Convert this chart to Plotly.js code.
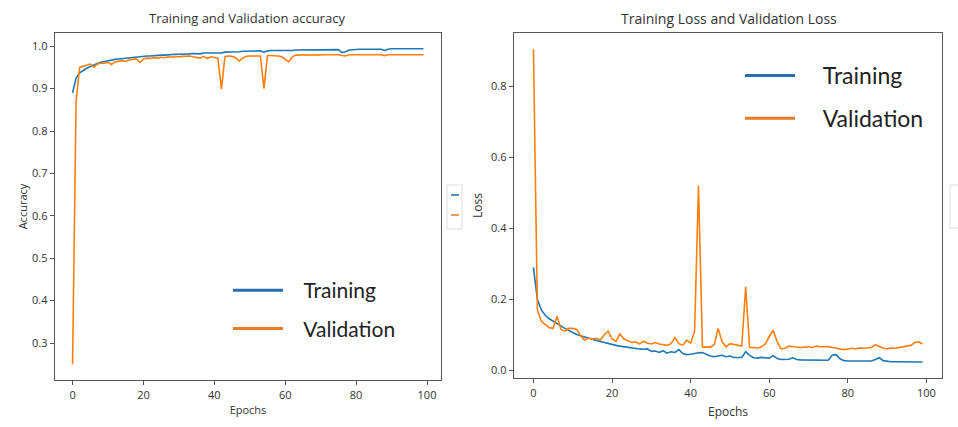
<!DOCTYPE html>
<html>
<head>
<meta charset="utf-8">
<script src="https://cdn.plot.ly/plotly-3.0.1.min.js"></script>
<style>html,body{margin:0;padding:0;background:#fff;}#chart{width:958px;height:427px;}</style>
</head>
<body>
<div id="chart"></div>
<script>
// ---- data ----
const epochs = Array.from({length: 100}, (_, i) => i);

const trainAcc = [0.890,0.925,0.937,0.943,0.948,0.952,0.956,0.959,0.962,0.964,
  0.966,0.968,0.969,0.970,0.971,0.972,0.973,0.974,0.975,0.976,
  0.976,0.977,0.977,0.978,0.978,0.979,0.979,0.980,0.980,0.981,
  0.981,0.981,0.982,0.982,0.983,0.983,0.982,0.984,0.984,0.984,
  0.985,0.985,0.984,0.986,0.986,0.987,0.987,0.987,0.988,0.988,
  0.988,0.989,0.989,0.989,0.986,0.989,0.990,0.990,0.990,0.990,
  0.990,0.989,0.990,0.991,0.991,0.991,0.991,0.991,0.991,0.992,
  0.992,0.992,0.992,0.992,0.992,0.992,0.985,0.987,0.991,0.992,
  0.993,0.993,0.993,0.993,0.993,0.993,0.993,0.993,0.990,0.993,
  0.994,0.994,0.994,0.994,0.994,0.994,0.994,0.994,0.994,0.994];

const valAcc = [0.250,0.870,0.950,0.953,0.955,0.958,0.951,0.958,0.960,0.960,
  0.962,0.957,0.963,0.965,0.966,0.964,0.968,0.969,0.970,0.962,
  0.970,0.972,0.971,0.973,0.972,0.974,0.973,0.975,0.974,0.976,
  0.975,0.976,0.976,0.977,0.975,0.973,0.972,0.976,0.971,0.975,
  0.974,0.972,0.899,0.976,0.977,0.976,0.973,0.965,0.972,0.976,
  0.977,0.977,0.976,0.977,0.900,0.978,0.978,0.978,0.977,0.975,
  0.970,0.963,0.975,0.979,0.979,0.980,0.979,0.980,0.980,0.979,
  0.980,0.980,0.980,0.980,0.980,0.980,0.978,0.977,0.980,0.980,
  0.980,0.980,0.980,0.980,0.980,0.980,0.980,0.980,0.978,0.980,
  0.980,0.980,0.980,0.980,0.980,0.980,0.980,0.980,0.980,0.980];

const trainLoss = [0.290,0.200,0.170,0.155,0.145,0.138,0.130,0.124,0.118,0.112,
  0.106,0.101,0.097,0.093,0.090,0.087,0.084,0.081,0.078,0.074,
  0.072,0.070,0.068,0.066,0.065,0.063,0.062,0.060,0.059,0.060,
  0.053,0.054,0.050,0.055,0.048,0.052,0.050,0.058,0.047,0.044,
  0.045,0.048,0.049,0.050,0.045,0.040,0.038,0.039,0.042,0.038,
  0.040,0.036,0.037,0.036,0.052,0.042,0.035,0.034,0.036,0.035,
  0.034,0.041,0.033,0.030,0.030,0.031,0.035,0.030,0.029,0.029,
  0.028,0.028,0.027,0.027,0.027,0.028,0.042,0.044,0.032,0.027,
  0.026,0.026,0.025,0.025,0.025,0.025,0.026,0.030,0.035,0.027,
  0.025,0.024,0.024,0.024,0.024,0.024,0.023,0.023,0.023,0.023];

const valLoss = [0.905,0.170,0.138,0.128,0.120,0.118,0.152,0.115,0.110,0.118,
  0.118,0.115,0.098,0.085,0.090,0.088,0.090,0.085,0.100,0.110,
  0.088,0.082,0.102,0.088,0.082,0.078,0.080,0.074,0.082,0.076,
  0.074,0.078,0.074,0.072,0.070,0.075,0.092,0.075,0.070,0.085,
  0.076,0.110,0.520,0.065,0.066,0.065,0.072,0.118,0.080,0.066,
  0.075,0.072,0.070,0.068,0.235,0.064,0.064,0.062,0.066,0.074,
  0.095,0.113,0.080,0.060,0.062,0.068,0.066,0.064,0.064,0.065,
  0.066,0.064,0.068,0.066,0.066,0.067,0.064,0.062,0.058,0.058,
  0.060,0.062,0.060,0.063,0.062,0.063,0.064,0.072,0.066,0.062,
  0.060,0.063,0.062,0.064,0.066,0.066,0.070,0.078,0.080,0.074];

const seriesNames = ['Training', 'Validation'];
const xTicks = [0, 20, 40, 60, 80, 100];
const accTicks = [0.3, 0.4, 0.5, 0.6, 0.7, 0.8, 0.9, 1.0];
const lossTicks = [0.0, 0.2, 0.4, 0.6, 0.8];

// ---- styles ----
const BLUE = '#1f77b4', ORANGE = '#ff7f0e';
const W = 958, H = 427;
const px = v => v / W, py = v => 1 - v / H;

const traces = [
  {x: epochs, y: trainAcc, xaxis: 'x', yaxis: 'y', mode: 'lines', line: {color: BLUE, width: 1.6}, showlegend: false, hoverinfo: 'skip'},
  {x: epochs, y: valAcc, xaxis: 'x', yaxis: 'y', mode: 'lines', line: {color: ORANGE, width: 1.6}, showlegend: false, hoverinfo: 'skip'},
  {x: epochs, y: trainLoss, xaxis: 'x2', yaxis: 'y2', mode: 'lines', line: {color: BLUE, width: 1.6}, showlegend: false, hoverinfo: 'skip'},
  {x: epochs, y: valLoss, xaxis: 'x2', yaxis: 'y2', mode: 'lines', line: {color: ORANGE, width: 1.6}, showlegend: false, hoverinfo: 'skip'},
  // legend entries
  {x: [null], y: [null], xaxis: 'x', yaxis: 'y', mode: 'lines', name: '\u00a0\u00a0\u00a0' + seriesNames[0], line: {color: '#2a6db0', width: 3}, legend: 'legend', legendgroup: 'a'},
  {x: [null], y: [null], xaxis: 'x', yaxis: 'y', mode: 'lines', name: '\u00a0\u00a0\u00a0' + seriesNames[1], line: {color: '#e97a2a', width: 3}, legend: 'legend', legendgroup: 'b'},
  {x: [null], y: [null], xaxis: 'x2', yaxis: 'y2', mode: 'lines', name: '\u00a0\u00a0\u00a0\u00a0' + seriesNames[0], line: {color: '#2a6db0', width: 3}, legend: 'legend2', legendgroup: 'c'},
  {x: [null], y: [null], xaxis: 'x2', yaxis: 'y2', mode: 'lines', name: '\u00a0\u00a0\u00a0\u00a0' + seriesNames[1], line: {color: '#e97a2a', width: 3}, legend: 'legend2', legendgroup: 'd'}
];

const axisCommon = {
  showline: true, mirror: true, linecolor: '#555', linewidth: 1.3,
  showgrid: false, zeroline: false, ticks: 'outside', ticklen: 4, tickcolor: '#555', tickwidth: 1,
  tickfont: {size: 11, color: '#333', family: 'Open Sans'}, automargin: false
};

const layout = {
  width: W, height: H,
  margin: {l: 0, r: 0, t: 0, b: 0},
  paper_bgcolor: '#fff', plot_bgcolor: '#fff',
  font: {family: 'Open Sans', color: '#333'},
  xaxis: Object.assign({}, axisCommon, {domain: [px(55), px(441)], range: [-4.95, 103.95], anchor: 'y',
    tickvals: xTicks, title: {text: 'Epochs', font: {size: 11, color: '#333'}, standoff: 5}}),
  yaxis: Object.assign({}, axisCommon, {domain: [py(380), py(33)], range: [0.2128, 1.0312], anchor: 'x',
    tickvals: accTicks, tickformat: '.1f', title: {text: 'Accuracy', font: {size: 11, color: '#333'}, standoff: 2}}),
  xaxis2: Object.assign({}, axisCommon, {domain: [px(514), px(942)], range: [-4.95, 103.95], anchor: 'y2',
    tickvals: xTicks, title: {text: 'Epochs', font: {size: 12, color: '#333'}, standoff: 9}}),
  yaxis2: Object.assign({}, axisCommon, {domain: [py(378), py(33)], range: [-0.022, 0.951], anchor: 'x2',
    tickvals: lossTicks, tickformat: '.1f', title: {text: 'Loss', font: {size: 12, color: '#333'}, standoff: 5}}),
  legend: {x: px(228), y: py(270), xanchor: 'left', yanchor: 'top', bgcolor: 'rgba(0,0,0,0)',
    font: {family: 'Lato', size: 21, color: '#222'}, itemwidth: 50, tracegroupgap: 8, traceorder: 'grouped'},
  legend2: {x: px(740), y: py(54), xanchor: 'left', yanchor: 'top', bgcolor: 'rgba(0,0,0,0)',
    font: {family: 'Lato', size: 23, color: '#222'}, itemwidth: 50, tracegroupgap: 10, traceorder: 'grouped'},
  annotations: [
    {text: 'Training and Validation accuracy', xref: 'paper', yref: 'paper', x: px(247), y: py(18),
      xanchor: 'center', yanchor: 'middle',
      showarrow: false, font: {size: 13, color: '#333', family: 'Open Sans'}},
    {text: 'Training Loss and Validation Loss', xref: 'paper', yref: 'paper', x: px(729), y: py(18),
      xanchor: 'center', yanchor: 'middle',
      showarrow: false, font: {size: 14, color: '#333', family: 'Open Sans'}}
  ],
  shapes: [
    {type: 'rect', xref: 'paper', yref: 'paper', x0: px(447), x1: px(462), y0: py(229), y1: py(185),
      line: {color: '#ddd', width: 1}, fillcolor: 'rgba(0,0,0,0)'},
    {type: 'line', xref: 'paper', yref: 'paper', x0: px(451), x1: px(459), y0: py(195), y1: py(195),
      line: {color: '#5b8fc4', width: 2}},
    {type: 'line', xref: 'paper', yref: 'paper', x0: px(451), x1: px(459), y0: py(215), y1: py(215),
      line: {color: '#f29a55', width: 2}},
    {type: 'rect', xref: 'paper', yref: 'paper', x0: px(950), x1: px(975), y0: py(228), y1: py(185),
      line: {color: '#ddd', width: 1}, fillcolor: 'rgba(0,0,0,0)'}
  ]
};

Plotly.newPlot('chart', traces, layout, {displayModeBar: false, staticPlot: true});
</script>
</body>
</html>
